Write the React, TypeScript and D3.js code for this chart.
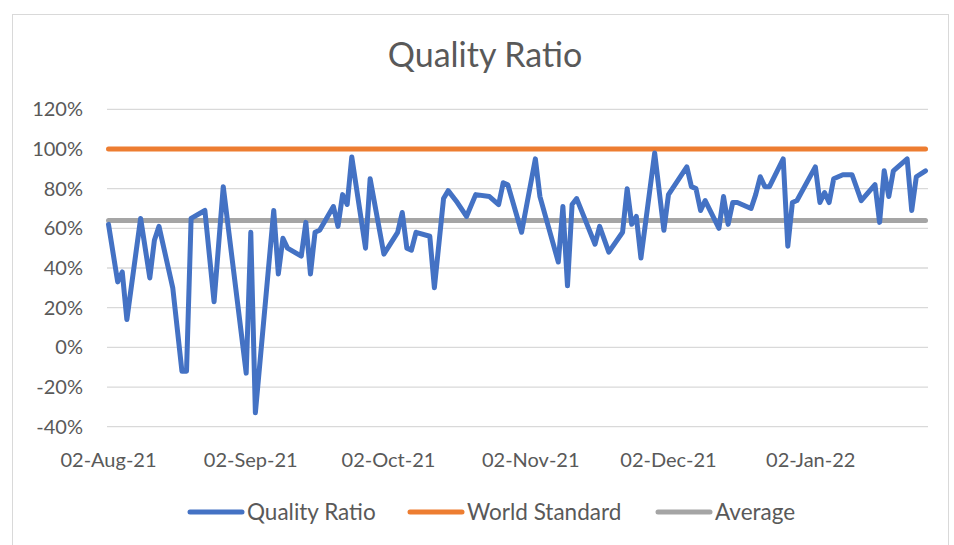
import React, { useEffect, useRef } from "react";
import * as d3 from "d3";

// daily quality ratio, dates as yyyy-mm-dd
const dates = [
  "2021-08-02", "2021-08-04", "2021-08-05", "2021-08-06", "2021-08-09", "2021-08-11", "2021-08-12", "2021-08-13",
  "2021-08-16", "2021-08-18", "2021-08-19", "2021-08-20", "2021-08-23", "2021-08-25", "2021-08-27",
  "2021-09-01", "2021-09-02", "2021-09-03", "2021-09-07", "2021-09-08", "2021-09-09", "2021-09-10",
  "2021-09-13", "2021-09-14", "2021-09-15", "2021-09-16", "2021-09-17", "2021-09-20", "2021-09-21",
  "2021-09-22", "2021-09-23", "2021-09-24", "2021-09-27", "2021-09-28",
  "2021-10-01", "2021-10-04", "2021-10-05", "2021-10-06", "2021-10-07", "2021-10-08", "2021-10-11",
  "2021-10-12", "2021-10-14", "2021-10-15", "2021-10-17", "2021-10-19", "2021-10-21", "2021-10-24",
  "2021-10-26", "2021-10-27", "2021-10-28", "2021-10-31",
  "2021-11-03", "2021-11-04", "2021-11-08", "2021-11-09", "2021-11-10", "2021-11-11", "2021-11-12",
  "2021-11-16", "2021-11-17", "2021-11-19", "2021-11-22", "2021-11-23", "2021-11-24", "2021-11-25",
  "2021-11-26", "2021-11-29",
  "2021-12-01", "2021-12-02", "2021-12-06", "2021-12-07", "2021-12-08", "2021-12-09", "2021-12-10",
  "2021-12-13", "2021-12-14", "2021-12-15", "2021-12-16", "2021-12-17", "2021-12-20", "2021-12-21",
  "2021-12-22", "2021-12-23", "2021-12-24", "2021-12-27", "2021-12-28", "2021-12-29", "2021-12-30",
  "2022-01-03", "2022-01-04", "2022-01-05", "2022-01-06", "2022-01-07", "2022-01-09", "2022-01-11",
  "2022-01-13", "2022-01-16", "2022-01-17", "2022-01-18", "2022-01-19", "2022-01-20", "2022-01-23",
  "2022-01-24", "2022-01-25", "2022-01-27",
];

const qualityRatio = [
  62, 33, 38, 14, 65, 35, 54, 61,
  30, -12, -12, 65, 69, 23, 81,
  -13, 58, -33, 69, 37, 55, 50,
  46, 63, 37, 58, 59, 71, 61,
  77, 72, 96, 50, 85,
  47, 58, 68, 50, 49, 58, 56,
  30, 75, 79, 73, 66, 77, 76,
  72, 83, 82, 58,
  95, 76, 43, 71, 31, 72, 75,
  52, 61, 48, 58, 80, 62, 66,
  45, 98,
  59, 77, 91, 81, 80, 69, 74,
  60, 76, 62, 73, 73, 70, 77,
  86, 81, 81, 95, 51, 73, 74,
  91, 73, 78, 73, 85, 87, 87,
  74, 82, 63, 89, 76, 89, 95,
  69, 86, 89,
];

const worldStandard = 100;
const average = 64;

const yTicks = [-40, -20, 0, 20, 40, 60, 80, 100, 120];
const xTicks = ["2021-08-02", "2021-09-02", "2021-10-02", "2021-11-02", "2021-12-02", "2022-01-02"];

const legendItems = [
  { name: "Quality Ratio", color: "#4472C4" },
  { name: "World Standard", color: "#ED7D31" },
  { name: "Average", color: "#A5A5A5" },
];

const FONT = "Lato, 'Open Sans', sans-serif";
const TEXT = "#595959";

export default function App() {
  const svgRef = useRef<SVGSVGElement>(null);

  useEffect(() => {
    const width = 954;
    const height = 545;
    const parse = d3.timeParse("%Y-%m-%d");

    const svg = d3.select(svgRef.current);
    svg.selectAll("*").remove();
    svg.attr("width", width).attr("height", height);

    svg.append("rect")
      .attr("x", 0).attr("y", 0).attr("width", width).attr("height", height)
      .attr("fill", "#fff");

    // chart border
    svg.append("rect")
      .attr("x", 12.5).attr("y", 14.5).attr("width", 936).attr("height", 540)
      .attr("fill", "none").attr("stroke", "#d9d9d9");

    const data = dates.map((d, i) => ({ date: parse(d) as Date, value: qualityRatio[i] }));
    const first = data[0].date;
    const last = data[data.length - 1].date;

    const x = d3.scaleTime().domain([first, last]).range([108.5, 925.5]);
    const y = d3.scaleLinear().domain([-40, 120]).range([426.7, 109.3]);
    const gridLeft = 107;
    const gridRight = 928;

    // gridlines
    svg.append("g")
      .selectAll("line")
      .data(yTicks)
      .enter()
      .append("line")
      .attr("x1", gridLeft)
      .attr("x2", gridRight)
      .attr("y1", d => y(d))
      .attr("y2", d => y(d))
      .attr("stroke", "#d9d9d9")
      .attr("stroke-width", 1.3);

    // y labels
    svg.append("g")
      .selectAll("text")
      .data(yTicks)
      .enter()
      .append("text")
      .attr("x", 83)
      .attr("y", d => y(d))
      .attr("dy", "0.35em")
      .attr("text-anchor", "end")
      .style("font-family", FONT)
      .style("font-size", "20px")
      .attr("fill", TEXT)
      .text(d => d + "%");

    // x labels
    const fmt = d3.timeFormat("%d-%b-%y");
    svg.append("g")
      .selectAll("text")
      .data(xTicks)
      .enter()
      .append("text")
      .attr("x", d => x(parse(d) as Date))
      .attr("y", 467)
      .attr("text-anchor", "middle")
      .style("font-family", FONT)
      .style("font-size", "20px")
      .attr("fill", TEXT)
      .text(d => fmt(parse(d) as Date));

    // world standard + average
    const flat = (v: number, color: string) => {
      svg.append("line")
        .attr("x1", x(first)).attr("x2", x(last))
        .attr("y1", y(v)).attr("y2", y(v))
        .attr("stroke", color)
        .attr("stroke-width", 5)
        .attr("stroke-linecap", "round");
    };
    flat(worldStandard, "#ED7D31");
    flat(average, "#A5A5A5");

    const line = d3.line<{ date: Date; value: number }>()
      .x(d => x(d.date))
      .y(d => y(d.value));

    svg.append("path")
      .datum(data)
      .attr("d", line)
      .attr("fill", "none")
      .attr("stroke", "#4472C4")
      .attr("stroke-width", 5)
      .attr("stroke-linejoin", "round")
      .attr("stroke-linecap", "round");

    // title
    svg.append("text")
      .attr("x", 485)
      .attr("y", 67)
      .attr("text-anchor", "middle")
      .style("font-family", FONT)
      .style("font-size", "34px")
      .attr("fill", TEXT)
      .text("Quality Ratio");

    // legend
    const legendX = [188, 408, 656];
    const lg = svg.append("g")
      .selectAll("g")
      .data(legendItems)
      .enter()
      .append("g")
      .attr("transform", (d, i) => `translate(${legendX[i]}, 512)`);
    lg.append("line")
      .attr("x1", 2).attr("x2", 54)
      .attr("stroke", d => d.color)
      .attr("stroke-width", 5)
      .attr("stroke-linecap", "round");
    lg.append("text")
      .attr("x", 59)
      .attr("dy", "0.35em")
      .style("font-family", FONT)
      .style("font-size", "22.5px")
      .attr("fill", TEXT)
      .text(d => d.name);
  }, []);

  return <svg ref={svgRef} style={{ position: "absolute", left: 0, top: 0 }}></svg>;
}
